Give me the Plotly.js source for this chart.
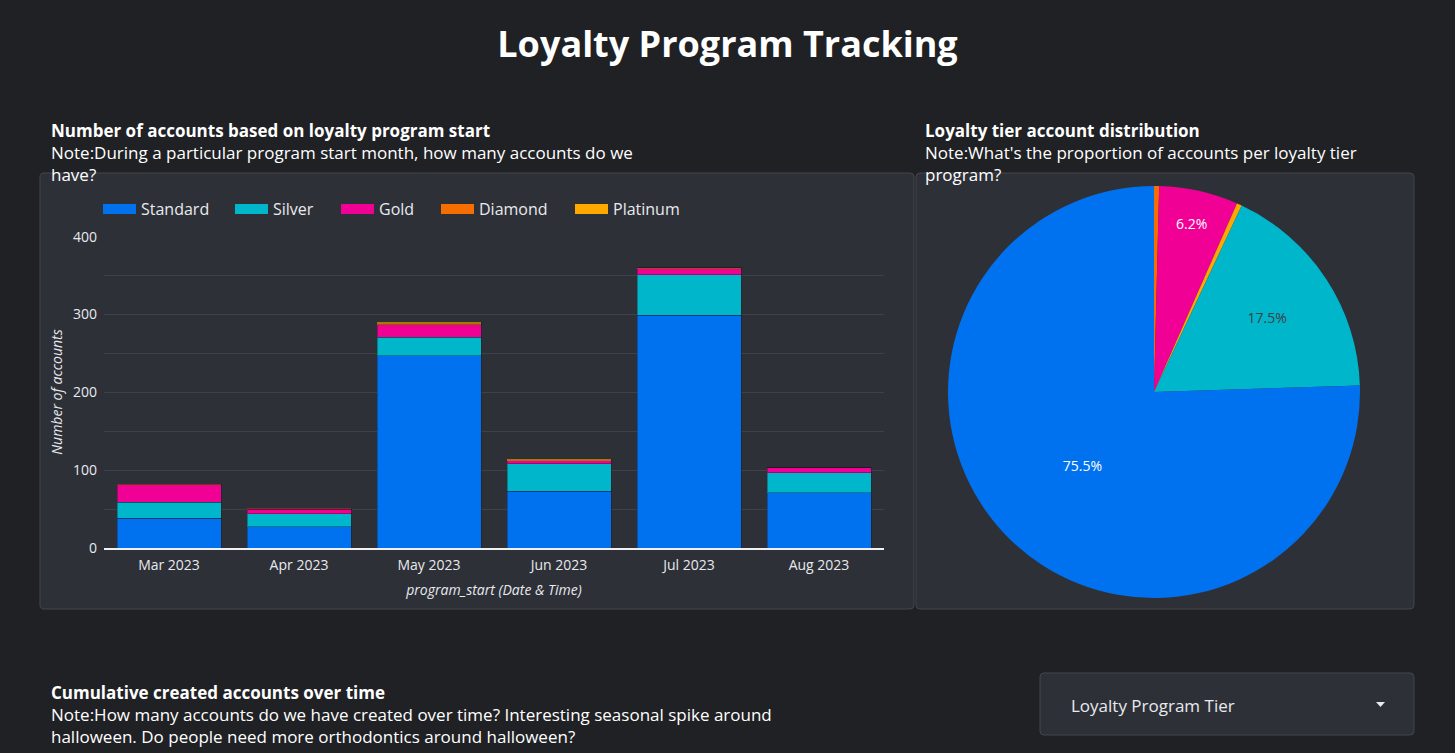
<!DOCTYPE html>
<html>
<head>
<meta charset="utf-8">
<script src="https://cdn.plot.ly/plotly-3.0.1.min.js"></script>
<style>
html,body{margin:0;padding:0;background:#202124;}
#chart{width:1455px;height:753px;}
</style>
</head>
<body>
<div id="chart"></div>
<script>
// ---- data ----
const months = ["Mar 2023", "Apr 2023", "May 2023", "Jun 2023", "Jul 2023", "Aug 2023"];
const tiers = ["Standard", "Silver", "Gold", "Diamond", "Platinum"];
const standardCounts = [38, 27, 247, 73, 299, 71];
const silverCounts   = [21, 17, 24, 35, 52, 26];
const goldCounts     = [22, 6, 16, 4, 8, 6];
const diamondCounts  = [1, 1, 1, 0, 1, 0];
const platinumCounts = [0, 0, 2, 2, 0, 0];
const yTickVals = [0, 100, 200, 300, 400];

const tierColors = {
  Standard: "#0072f0", Silver: "#00b6cb", Gold: "#f10096",
  Diamond: "#f66d00", Platinum: "#ffa800"
};
const legendEntryWidth = { Standard: 84, Silver: 58, Gold: 52, Diamond: 86, Platinum: 100 };
const seriesByTier = {
  Standard: standardCounts, Silver: silverCounts, Gold: goldCounts,
  Diamond: diamondCounts, Platinum: platinumCounts
};
const sum = a => a.reduce((s, v) => s + v, 0);

// pie ordered alphabetically, clockwise from 12 o'clock
const pieOrder = ["Diamond", "Gold", "Platinum", "Silver", "Standard"];
const pieValues = pieOrder.map(t => sum(seriesByTier[t]));

const W = 1455, H = 753;
const px = x => x / W;
const py = y => 1 - y / H;

const FONT = "Open Sans, Noto Sans, sans-serif";
const TXT = "#e8eaed";

const traces = tiers.map(t => ({
  type: "bar",
  name: t,
  legendgroup: t,
  showlegend: false,
  x: months,
  y: seriesByTier[t],
  marker: { color: tierColors[t], line: { color: "rgba(20,20,30,0.35)", width: 1 } },
  xaxis: "x", yaxis: "y",
  hoverinfo: "x+y+name"
}));

// legend entries drawn as wide colour swatches (no marks on the plot)
tiers.forEach(t => traces.push({
  type: "scatter", mode: "lines",
  name: t, legendgroup: t,
  x: [null], y: [null],
  xaxis: "x", yaxis: "y",
  line: { color: tierColors[t], width: 16 },
  legendwidth: legendEntryWidth[t],
  hoverinfo: "skip"
}));

traces.push({
  type: "pie",
  labels: pieOrder,
  values: pieValues,
  sort: false,
  direction: "clockwise",
  rotation: 0,
  showlegend: false,
  marker: { colors: pieOrder.map(t => tierColors[t]), line: { width: 0 } },
  textposition: "inside",
  texttemplate: pieOrder.map(t => (t === "Diamond" || t === "Platinum") ? "" : "%{percent:.1%}"),
  insidetextfont: { family: FONT, size: 14, color: pieOrder.map(t => t === "Silver" ? "#3c4043" : "#ffffff") },
  insidetextorientation: "horizontal",
  domain: { x: [px(948), px(1360)], y: [py(598), py(186)] }
});

// rounded panel rectangles (pixel boxes converted to paper fractions)
function roundedRect(x0, y0, x1, y1, r) {
  const X = v => px(v).toFixed(6), Y = v => py(v).toFixed(6);
  return `M ${X(x0 + r)} ${Y(y0)} L ${X(x1 - r)} ${Y(y0)} Q ${X(x1)} ${Y(y0)} ${X(x1)} ${Y(y0 + r)} ` +
         `L ${X(x1)} ${Y(y1 - r)} Q ${X(x1)} ${Y(y1)} ${X(x1 - r)} ${Y(y1)} ` +
         `L ${X(x0 + r)} ${Y(y1)} Q ${X(x0)} ${Y(y1)} ${X(x0)} ${Y(y1 - r)} ` +
         `L ${X(x0)} ${Y(y0 + r)} Q ${X(x0)} ${Y(y0)} ${X(x0 + r)} ${Y(y0)} Z`;
}
const panelShapes = [
  { x0: 40, x1: 914, y0: 173, y1: 609 },
  { x0: 916, x1: 1414, y0: 173, y1: 609 },
  { x0: 1040, x1: 1414, y0: 673, y1: 735 }
].map(r => ({
  type: "path", xref: "paper", yref: "paper", layer: "below",
  path: roundedRect(r.x0, r.y0, r.x1, r.y1, 4),
  fillcolor: "#2e3038", line: { color: "#43464d", width: 1 }
}));

// dropdown caret
panelShapes.push({
  type: "path", xref: "paper", yref: "paper",
  path: `M ${px(1376)} ${py(702)} L ${px(1385)} ${py(702)} L ${px(1380.5)} ${py(707)} Z`,
  fillcolor: "#e8eaed", line: { width: 0 }
});

const annotations = [
  {
    text: "<b>Number of accounts based on loyalty program start</b><br>Note:During a particular program start month, how many accounts do we<br>have?",
    x: px(49), y: py(117), xanchor: "left", yanchor: "top", align: "left"
  },
  {
    text: "<b>Loyalty tier account distribution</b><br>Note:What's the proportion of accounts per loyalty tier<br>program?",
    x: px(923), y: py(117), xanchor: "left", yanchor: "top", align: "left"
  },
  {
    text: "<b>Cumulative created accounts over time</b><br>Note:How many accounts do we have created over time? Interesting seasonal spike around<br>halloween. Do people need more orthodontics around halloween?",
    x: px(49), y: py(679), xanchor: "left", yanchor: "top", align: "left"
  },
  {
    text: "Loyalty Program Tier",
    x: px(1069), y: py(705), xanchor: "left", yanchor: "middle", align: "left",
    font: { family: FONT, size: 17, color: TXT }
  }
].map(a => Object.assign({
  xref: "paper", yref: "paper", showarrow: false,
  font: { family: FONT, size: 17, color: "#ffffff" }
}, a));

const layout = {
  width: W, height: H,
  margin: { l: 0, r: 0, t: 0, b: 0 },
  paper_bgcolor: "#202124",
  plot_bgcolor: "rgba(0,0,0,0)",
  font: { family: FONT, color: TXT, size: 14 },
  title: {
    text: "<b>Loyalty Program Tracking</b>",
    font: { family: FONT, size: 36, color: "#ffffff" },
    x: 0.5, xanchor: "center", y: py(44), yanchor: "middle", yref: "container"
  },
  barmode: "stack",
  bargap: 0.2,
  xaxis: {
    domain: [px(104), px(884)],
    anchor: "y",
    type: "category",
    showgrid: false,
    showline: true, linecolor: "#f1f1f1", linewidth: 1.5,
    ticks: "", ticklabelstandoff: 4, tickfont: { size: 14, color: TXT },
    title: { text: "program_start (Date & Time)", font: { size: 14, color: TXT, style: "italic" }, standoff: 12 }
  },
  yaxis: {
    domain: [py(548), py(236)],
    anchor: "x",
    range: [0, 401],
    tickvals: yTickVals,
    tickfont: { size: 14, color: TXT },
    showgrid: true, gridcolor: "#3e4149", gridwidth: 1,
    minor: { dtick: 50, showgrid: true, gridcolor: "#3e4149", gridwidth: 1 },
    zeroline: false,
    ticks: "", ticklabelstandoff: 6,
    title: { text: "Number of accounts", font: { size: 14, color: TXT, style: "italic" }, standoff: 7 }
  },
  showlegend: true,
  legend: {
    orientation: "h",
    x: px(98), y: py(209), xanchor: "left", yanchor: "middle",
    font: { size: 16, color: TXT },
    bgcolor: "rgba(0,0,0,0)",
    traceorder: "normal",
    itemwidth: 33
  },
  shapes: panelShapes,
  annotations: annotations
};

Plotly.newPlot("chart", traces, layout, { displayModeBar: false, staticPlot: true });
</script>
</body>
</html>
